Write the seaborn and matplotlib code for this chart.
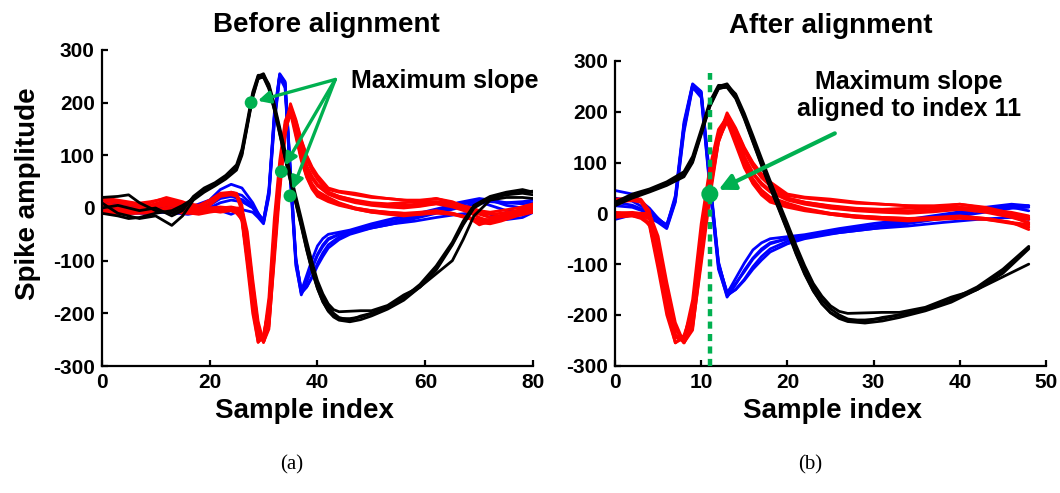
import numpy as np
import pandas as pd
import matplotlib
matplotlib.use("Agg")
import matplotlib.pyplot as plt
import seaborn as sns

# ---------------------------------------------------------------------------
# Spike waveforms (amplitude per sample index) for three units
# ---------------------------------------------------------------------------
black_idx = [0, 3, 5, 7, 10, 13, 15, 17, 19, 21, 23, 25, 26, 27, 28, 29, 30, 31, 32, 33,
             34, 35, 36, 37, 38, 39, 40, 41, 42, 43, 44, 46, 48, 50, 53, 56, 59, 62, 65, 67,
             69, 72, 75, 78, 80]
black_1 = [20, 22, 25, 10, -5, -10, 0, 20, 35, 45, 58, 78, 105, 160, 215, 250, 255, 232, 192, 148,
           102, 58, 15, -28, -72, -112, -145, -170, -188, -200, -208, -213, -205, -200, -188, -170, -145, -110, -65, -25,
           5, 22, 30, 35, 30]
black_2 = [10, -10, -15, -20, -15, -33, -15, 15, 30, 42, 55, 72, 100, 155, 210, 245, 250, 228, 188, 142,
           96, 52, 10, -33, -78, -118, -152, -178, -196, -207, -213, -216, -212, -205, -192, -175, -150, -118, -70, -32,
           0, 18, 25, 28, 25]
black_3 = [0, 5, 0, -5, 0, -15, -5, 22, 38, 48, 62, 82, 112, 165, 220, 252, 252, 235, 197, 153,
           108, 64, 22, -20, -63, -103, -138, -163, -182, -193, -197, -196, -195, -195, -185, -165, -150, -125, -100, -60,
           -15, 15, 20, 20, 18]
black_4 = [-10, -15, -20, -18, -10, -5, 5, 18, 32, 44, 57, 76, 103, 158, 212, 247, 248, 226, 186, 140,
           94, 50, 8, -35, -80, -120, -153, -178, -195, -205, -210, -210, -207, -200, -190, -172, -150, -115, -68, -30,
           3, 20, 28, 30, 32]

blue_idx = [0, 4, 8, 12, 16, 20, 22, 24, 26, 28, 29, 30, 31, 32, 33, 34, 35, 36, 37, 38,
            39, 40, 41, 42, 44, 46, 48, 50, 54, 58, 62, 66, 70, 72, 75, 78, 80]
blue_1 = [10, 5, 0, 5, 0, 15, 35, 45, 38, 10, -10, -25, 35, 180, 255, 240, 70, -95, -160, -150,
          -130, -105, -85, -70, -55, -48, -42, -38, -30, -20, -10, 0, 10, 12, 10, 8, 10]
blue_2 = [0, -5, -10, -5, -10, 0, 10, 15, 12, 0, -15, -28, 25, 165, 250, 232, 55, -105, -165, -140,
          -112, -88, -70, -58, -50, -45, -40, -35, -25, -18, -8, 5, 15, 15, 5, 0, 5]
blue_3 = [5, 5, -5, 0, -5, 5, 18, 22, 16, 2, -12, -22, 30, 172, 252, 236, 62, -98, -158, -128,
          -98, -72, -58, -50, -46, -42, -36, -30, -20, -12, -2, 8, 12, 5, -5, -10, 0]
blue_4 = [-5, -10, -10, -8, -12, -5, -5, -12, -3, -8, -18, -30, 22, 160, 248, 228, 50, -110, -162, -150,
          -132, -110, -92, -76, -60, -50, -44, -38, -30, -25, -18, -12, -8, -12, -22, -18, -8]
blue_5 = [0, 0, 5, 0, -5, 8, 20, 30, 24, 5, -10, -25, 28, 175, 253, 238, 65, -100, -155, -138,
          -115, -90, -73, -60, -50, -44, -38, -32, -25, -15, -5, 10, 18, 15, 10, 12, 15]

red_idx = [0, 3, 6, 9, 12, 15, 18, 20, 22, 24, 25, 26, 27, 28, 29, 30, 31, 32, 33, 34,
           35, 36, 37, 38, 39, 40, 42, 44, 47, 50, 53, 56, 59, 62, 65, 68, 70, 72, 74, 77, 80]
red_1 = [20, 15, 10, 5, 15, 10, 5, 15, 28, 30, 28, 5, -90, -190, -255, -245, -185, -50, 65, 155,
         192, 165, 128, 98, 75, 58, 35, 30, 25, 20, 18, 15, 15, 18, 12, 0, -8, -12, -10, -5, 5]
red_2 = [15, 10, 5, 10, 20, 12, 0, 10, 25, 28, 25, 0, -80, -170, -238, -255, -215, -80, 40, 140,
         185, 150, 108, 78, 58, 44, 30, 22, 15, 10, 8, 10, 12, 18, 10, -2, -10, -18, -15, -5, 5]
red_3 = [10, 5, 0, 5, 10, 5, -5, 0, 0, 2, 0, 0, -45, -135, -215, -255, -225, -100, 30, 140,
         190, 158, 112, 80, 60, 45, 28, 20, 12, 8, 5, 3, 5, 8, 5, -5, -20, -28, -22, -12, -5]
red_4 = [5, 0, -5, 0, 5, 0, -8, -5, -5, -3, -5, -20, -100, -185, -245, -248, -170, -20, 90, 165,
         190, 142, 95, 60, 38, 25, 15, 8, 0, -5, -8, -10, -8, -5, -10, -18, -28, -30, -25, -15, -8]
red_5 = [-5, -10, -5, -8, 0, -5, -10, -5, -2, 0, -3, -25, -110, -200, -255, -240, -190, -70, 45, 145,
         180, 135, 90, 58, 36, 22, 12, 5, -2, -8, -12, -15, -12, -10, -12, -18, -22, -22, -18, -10, -5]
red_6 = [-10, -12, -10, -5, 0, -8, -12, -8, -5, -5, -8, -5, -55, -145, -222, -255, -230, -90, 45, 150,
         198, 168, 130, 100, 78, 62, 38, 32, 28, 22, 18, 15, 12, 12, 8, 2, -5, -8, -5, 0, 8]
red_7 = [18, 12, 8, 12, 18, 8, -3, 5, 22, 25, 22, -5, -85, -172, -240, -252, -200, -60, 55, 150,
         188, 152, 110, 78, 56, 42, 26, 18, 10, 5, 2, 0, 3, 8, 2, -8, -18, -25, -20, -8, 2]
red_8 = [0, -5, 0, 5, 12, 5, -5, 0, 2, 0, -2, -12, -92, -178, -242, -250, -205, -65, 50, 148,
         186, 145, 100, 68, 46, 32, 20, 10, 0, -5, -8, -10, -12, -8, -12, -20, -25, -22, -15, -8, -2]
red_9 = [8, 3, -2, 3, 8, 3, -6, -2, 0, 0, -2, -5, -60, -150, -228, -254, -220, -85, 50, 148,
         193, 160, 122, 92, 70, 54, 30, 22, 14, 8, 6, 5, 8, 12, 6, -5, -12, -18, -14, -6, 4]
red_10 = [-8, -5, -10, -10, -5, -10, -10, -5, -8, -5, -10, -22, -98, -182, -244, -250, -185, -40, 75, 158,
          188, 140, 94, 62, 40, 28, 18, 8, -2, -8, -10, -12, -10, -6, -10, -18, -32, -25, -15, -8, -3]

# Index of maximum slope per unit; after alignment it lands on sample 11
align_index = 11
max_slope_idx = {"black": 28, "blue": 35, "red": 33}
aligned_length = 48

# Maximum-slope markers in the raw waveforms
slope_x = [27.7, 33.3, 34.9]
slope_y = [200, 69, 23]
aligned_slope_y = 38

ticks_a = [0, 20, 40, 60, 80]
ticks_b = [0, 10, 20, 30, 40, 50]
ticks_y = [-300, -200, -100, 0, 100, 200, 300]

# ---------------------------------------------------------------------------
units = {
    "blue": (blue_idx, [blue_1, blue_2, blue_3, blue_4, blue_5]),
    "red": (red_idx, [red_1, red_2, red_3, red_4, red_5, red_6, red_7, red_8, red_9, red_10]),
    "black": (black_idx, [black_1, black_2, black_3, black_4]),
}
rows = []
for cls, (idx, traces) in units.items():
    for k, tr in enumerate(traces):
        for i, v in zip(idx, tr):
            rows.append((cls, f"{cls}{k}", i, v))
raw = pd.DataFrame(rows, columns=["unit", "trace", "sample", "amp"])

aligned = raw.copy()
aligned["sample"] = aligned["sample"] - aligned["unit"].map(max_slope_idx) + align_index
aligned = aligned[(aligned["sample"] >= 0) & (aligned["sample"] <= aligned_length)]

palette = {"blue": "#0000ff", "red": "#ff0000", "black": "#000000"}
order = ["blue", "red", "black"]
green = "#00b050"

sns.set_theme(style="white")
plt.rcParams["font.family"] = ["Liberation Sans", "DejaVu Sans"]
plt.rcParams["font.weight"] = "bold"
plt.rcParams["axes.labelweight"] = "bold"
plt.rcParams["axes.titleweight"] = "bold"
plt.rcParams["axes.unicode_minus"] = False
for key in ("text.color", "axes.labelcolor", "xtick.color", "ytick.color"):
    plt.rcParams[key] = "black"

fig = plt.figure(figsize=(10.6, 4.93), dpi=100)
ax_a = fig.add_axes([0.0959, 0.2576, 0.4072, 0.641])
ax_b = fig.add_axes([0.5802, 0.2582, 0.4066, 0.6181])

for ax, data in ((ax_a, raw), (ax_b, aligned)):
    sns.lineplot(data=data, x="sample", y="amp", hue="unit", units="trace",
                 estimator=None, sort=False, palette=palette, hue_order=order,
                 lw=2.0, legend=False, ax=ax)
    ax.set_ylim(-300, 300)
    ax.set_yticks(ticks_y)
    ax.set_xlabel("Sample index", fontsize=20)
    ax.set_ylabel("")
    for s in ("top", "right"):
        ax.spines[s].set_visible(False)
    for s in ("left", "bottom"):
        ax.spines[s].set_linewidth(1.6)
        ax.spines[s].set_color("black")
    ax.tick_params(direction="in", length=4, width=1.6, labelsize=15, pad=5,
                   colors="black", left=True, bottom=True)
    for lab in ax.get_xticklabels() + ax.get_yticklabels():
        lab.set_fontweight("bold")

# (a) raw waveforms
ax_a.set_xlim(0, 80)
ax_a.set_xticks(ticks_a)
ax_a.set_ylabel("Spike amplitude", fontsize=20)
ax_a.yaxis.set_label_coords(-0.14, 0.544)
ax_a.xaxis.set_label_coords(0.469, -0.10)
ax_a.set_title("Before alignment", fontsize=20, x=0.52, y=1.058, va="baseline", pad=0)
sns.scatterplot(x=slope_x, y=slope_y, color=green, s=85, edgecolor="none",
                zorder=6, ax=ax_a, legend=False)
for sx, sy in zip(slope_x, slope_y):
    ax_a.annotate("", xy=(sx, sy), xytext=(43.3, 244),
                  arrowprops=dict(arrowstyle="-|>", color=green, lw=2.4,
                                  mutation_scale=18, shrinkA=0, shrinkB=5),
                  zorder=7, annotation_clip=False)
ax_a.text(46.2, 227, "Maximum slope", fontsize=18, ha="left", va="baseline",
          clip_on=False)

# (b) aligned waveforms
ax_b.set_xlim(0, 50)
ax_b.set_xticks(ticks_b)
ax_b.xaxis.set_label_coords(0.505, -0.105)
ax_b.set_title("After alignment", fontsize=20, x=0.5007, y=1.091, va="baseline", pad=0)
ax_b.axvline(align_index, ymin=0, ymax=(276 + 300) / 600, color=green, lw=3.2,
             linestyle=(0, (1.6, 1.2)), zorder=5)
sns.scatterplot(x=[align_index], y=[aligned_slope_y], color=green, s=150,
                edgecolor="none", zorder=6, ax=ax_b, legend=False)
ax_b.annotate("", xy=(align_index, aligned_slope_y), xytext=(25.5, 157.5),
              arrowprops=dict(arrowstyle="-|>", color=green, lw=3.0,
                              mutation_scale=24, shrinkA=0, shrinkB=7),
              zorder=7)
ax_b.text(34.1, 232, "Maximum slope\naligned to index 11", fontsize=18,
          ha="center", va="center", linespacing=1.15)

fig.text(292 / 1060, 1 - 465 / 493, "(a)", family=["Liberation Serif", "DejaVu Serif"],
         fontsize=15, fontweight="normal", ha="center", va="center")
fig.text(810 / 1060, 1 - 465 / 493, "(b)", family=["Liberation Serif", "DejaVu Serif"],
         fontsize=15, fontweight="normal", ha="center", va="center")

fig.savefig("out.png", dpi=100, facecolor="white")
